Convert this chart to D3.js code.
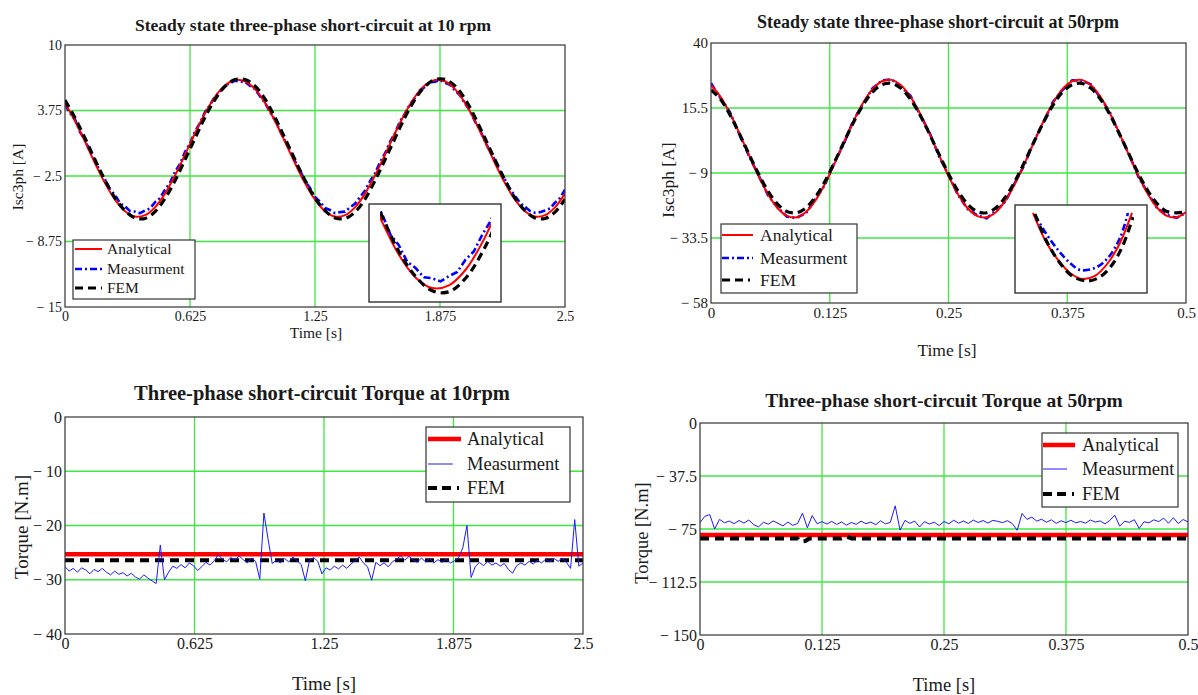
<!DOCTYPE html>
<html>
<head>
<meta charset="utf-8">
<script src="https://cdn.jsdelivr.net/npm/d3@7/dist/d3.min.js"></script>
<style>
  body { margin: 0; background: #fff; }
  svg text { font-family: "Liberation Serif", "Times New Roman", serif; fill: #1a1a1a; }
</style>
</head>
<body>
<svg id="chart" width="1198" height="695"></svg>
<script>
// ---- data ----
// short-circuit current at 10 rpm, sampled every 0.05 s (0 .. 2.5 s)
var isc10Analytical = [4.45, 2.75, 0.78, -1.28, -3.18, -4.76, -5.86, -6.37, -6.24, -5.49, -4.18, -2.45, -0.47, 1.58, 3.48, 5.06, 6.16, 6.67, 6.54, 5.79,
  4.48, 2.75, 0.77, -1.28, -3.18, -4.76, -5.86, -6.37, -6.24, -5.49, -4.18, -2.45, -0.47, 1.58, 3.48, 5.06, 6.16, 6.67, 6.54, 5.79,
  4.48, 2.75, 0.77, -1.28, -3.18, -4.76, -5.86, -6.37, -6.24, -5.49, -4.18];
var isc10Fem = [4.75, 3.05, 1.1, -0.95, -2.9, -4.6, -5.8, -6.5, -6.55, -5.9, -4.65, -2.95, -0.95, 1.1, 3.1, 4.8, 6.05, 6.7, 6.7, 6.1,
  4.85, 3.1, 1.1, -0.95, -2.9, -4.6, -5.8, -6.5, -6.55, -5.95, -4.7, -2.95, -0.95, 1.1, 3.1, 4.8, 6.05, 6.7, 6.72, 6.1,
  4.85, 3.1, 1.1, -0.95, -2.9, -4.6, -5.8, -6.5, -6.55, -5.95, -4.7];
// measurement, every 0.025 s
var isc10Meas = [4.3, 3.5, 2.9, 1.7, 0.95, -0.2, -1.0, -2.1, -2.8, -3.8, -4.3, -5.1, -5.4, -5.85, -5.9, -6.05, -5.8, -5.6, -5.0, -4.6,
  -3.8, -3.15, -2.1, -1.35, -0.2, 0.6, 1.75, 2.55, 3.6, 4.25, 5.1, 5.55, 6.15, 6.35, 6.6, 6.5, 6.5, 6.1, 5.8, 5.1,
  4.5, 3.6, 2.85, 1.8, 0.85, -0.05, -1.1, -1.95, -3.0, -3.65, -4.5, -4.95, -5.55, -5.75, -6.05, -5.95, -5.9, -5.5, -5.15, -4.5,
  -3.9, -3.0, -2.25, -1.2, -0.35, 0.75, 1.6, 2.7, 3.45, 4.35, 4.95, 5.7, 6.0, 6.45, 6.5, 6.65, 6.4, 6.2, 5.65, 5.2,
  4.4, 3.75, 2.7, 1.9, 0.8, -0.15, -1.0, -2.1, -2.85, -3.75, -4.4, -5.05, -5.45, -5.85, -6.0, -5.95, -5.8, -5.6, -5.05, -4.6, -3.8];

// short-circuit current at 50 rpm, every 0.01 s (0 .. 0.5 s)
var isc50Analytical = [24.07, 19.7, 13.43, 5.87, -2.24, -10.12, -16.99, -22.19, -25.18, -25.7, -23.67, -19.3, -13.03, -5.47, 2.64, 10.52, 17.39, 22.59, 25.58, 26.1,
  24.07, 19.7, 13.43, 5.87, -2.24, -10.12, -16.99, -22.19, -25.18, -25.7, -23.67, -19.3, -13.03, -5.47, 2.64, 10.52, 17.39, 22.59, 25.58, 26.1,
  24.07, 19.7, 13.43, 5.87, -2.24, -10.12, -16.99, -22.19, -25.18, -25.7, -23.67];
var isc50Fem = [22.3, 18.8, 12.9, 5.7, -1.9, -9.3, -15.8, -20.7, -23.5, -24.0, -22.1, -18.0, -12.1, -4.9, 2.7, 10.1, 16.6, 21.5, 24.3, 24.8,
  22.9, 18.8, 12.9, 5.7, -1.9, -9.3, -15.8, -20.7, -23.5, -24.0, -22.1, -18.0, -12.1, -4.9, 2.7, 10.1, 16.6, 21.5, 24.3, 24.8,
  22.9, 18.8, 12.9, 5.7, -1.9, -9.3, -15.8, -20.7, -23.5, -24.0, -23.6];
var isc50Meas = [24.8, 19.3, 13.9, 5.4, -2.6, -9.8, -17.4, -21.9, -25.5, -25.9, -24.1, -18.8, -13.4, -5.0, 2.2, 10.9, 17.0, 22.9, 25.9, 26.3,
  23.6, 20.1, 13.0, 6.3, -2.7, -9.7, -17.3, -22.5, -24.9, -26.1, -23.3, -19.7, -12.6, -5.9, 3.0, 10.1, 17.8, 22.3, 25.9, 25.8,
  24.4, 19.3, 13.8, 5.5, -1.9, -10.5, -16.6, -22.5, -24.8, -25.9, -24.0];
// the 50 rpm inset is drawn from its own zoomed trace
var inset50AnalyticalTime = [0.262, 0.2682, 0.2749, 0.2811, 0.2872, 0.2939, 0.3006, 0.3068, 0.313];
var inset50Analytical = [-17.49, -20.85, -23.33, -24.95, -25.69, -25.32, -23.71, -21.22, -17.49];
var inset50MeasTime = [0.263, 0.2682, 0.2749, 0.2811, 0.2862, 0.2939, 0.3006, 0.3068, 0.3109];
var inset50Meas = [-17.74, -19.85, -22.09, -23.71, -24.57, -24.33, -23.08, -20.6, -17.49];
var inset50FemTime = [0.263, 0.2692, 0.2759, 0.2821, 0.2898, 0.2965, 0.3027, 0.3084, 0.3135];
var inset50Fem = [-17.62, -21.1, -23.71, -25.32, -25.94, -25.44, -23.95, -21.47, -18.0];

// torque at 10 rpm
var torque10Analytical = [-25.3, -25.3];
var torque10Fem = [-26.4, -26.4];
// measurement every 0.02 s
var torque10Meas = [-27.6, -28.4, -27.9, -28.6, -27.8, -28.2, -28.9, -28.1, -28.5, -27.9, -28.6, -29.1, -28.4, -29.0, -28.7, -29.3, -28.8, -29.5, -29.9, -29.1,
  -29.7, -30.2, -30.7, -23.6, -30.0, -28.6, -27.5, -27.9, -27.2, -27.8, -26.9, -27.4, -28.3, -27.6, -26.8, -27.3, -26.5, -25.4, -26.2, -26.7,
  -25.9, -26.4, -25.6, -26.3, -26.9, -26.0, -26.6, -29.9, -17.7, -22.5, -27.0, -26.4, -26.9, -26.1, -26.7, -25.8, -26.5, -27.2, -30.2, -26.4,
  -25.9, -26.6, -28.9, -27.8, -28.2, -27.5, -28.0, -27.3, -27.9, -27.1, -26.5, -25.8, -26.9, -27.6, -30.1, -26.8, -27.4, -26.9, -27.6, -26.7,
  -26.2, -25.6, -26.4, -25.7, -26.3, -26.8, -26.0, -26.7, -26.1, -26.9, -26.3, -26.8, -26.2, -26.9, -26.5, -25.9, -24.1, -20.0, -29.6, -27.6,
  -26.8, -27.4, -26.6, -27.3, -26.9, -27.5, -27.0, -28.1, -28.8, -27.4, -26.9, -27.3, -26.6, -27.1, -26.4, -26.9, -26.2, -26.7, -26.1, -26.6,
  -26.0, -26.8, -27.9, -18.9, -27.5, -26.9];

// torque at 50 rpm
var torque50Analytical = [-79.2, -79.2];
var torque50FemTime = [0, 0.1, 0.103, 0.108, 0.112, 0.145, 0.15, 0.155, 0.5];
var torque50Fem = [-81.7, -81.7, -84, -83.5, -81.7, -81.7, -80.3, -81.7, -81.7];
// measurement every 0.005 s
var torque50Meas = [-70.5, -66.0, -64.8, -75.0, -68.2, -70.6, -69.4, -71.2, -69.0, -70.8, -68.7, -71.9, -73.5, -70.2, -71.6, -69.3, -71.0, -72.8, -70.1, -72.4,
  -71.1, -63.8, -74.2, -65.5, -71.3, -69.8, -71.5, -69.6, -71.8, -70.0, -72.3, -70.4, -71.7, -69.5, -71.2, -70.1, -72.0, -69.2, -71.4, -70.3,
  -58.6, -75.8, -68.9, -71.0, -69.4, -73.6, -69.8, -71.5, -70.2, -72.6, -69.7, -71.3, -68.8, -70.9, -69.3, -71.1, -68.7, -70.4, -69.0, -70.8,
  -68.9, -69.6, -70.5, -69.1, -71.2, -75.9, -64.0, -68.2, -66.6, -69.4, -68.1, -70.2, -68.5, -71.0, -69.2, -70.5, -68.8, -70.6, -69.7, -70.9,
  -68.6, -70.1, -69.3, -71.4, -68.9, -65.2, -73.0, -69.5, -70.3, -68.4, -74.6, -69.9, -70.6, -68.5, -69.8, -67.3, -70.9, -67.0, -71.2, -68.3, -70.0];

// axes
var ticks10 = [0, 0.625, 1.25, 1.875, 2.5];
var ticks50 = [0, 0.125, 0.25, 0.375, 0.5];
var iscTicks10 = [-15, -8.75, -2.5, 3.75, 10];
var iscTicks50 = [-58, -33.5, -9, 15.5, 40];
var torqueTicks10 = [-40, -30, -20, -10, 0];
var torqueTicks50 = [-150, -112.5, -75, -37.5, 0];
var seriesNames = ['Analytical', 'Measurment', 'FEM'];

var FONT = '"Liberation Serif", "Times New Roman", serif';

// sample times spread evenly over the record
function timesFor(n, tMax) {
  return d3.range(n).map(function (i) { return i * tMax / (n - 1); });
}

var styles = {
  anaThin: { stroke: '#ff0000', width: 2, dash: null },
  measDash: { stroke: '#0000ff', width: 2.6, dash: '7,3,2,3' },
  femDash: { stroke: '#000000', width: 3.2, dash: '8,5' },
  anaThick: { stroke: '#ff0000', width: 4.5, dash: null },
  measThin: { stroke: '#1a1aff', width: 1, dash: null },
  femThick: { stroke: '#000000', width: 4, dash: '9,6' }
};
// legend samples end with a dot like the originals
var legendDash = { measDash: '7,3,2,3', femDash: '8,5,8,5,2,40', femThick: '9,5,9,6,2,40' };

var svg = d3.select('#chart');

function fmt(d) {
  return d < 0 ? '\u2212 ' + Math.abs(d) : String(d);
}

function drawLine(g, s, x, y) {
  g.append('path')
    .datum(d3.zip(s.t, s.v))
    .attr('fill', 'none')
    .attr('stroke', styles[s.style].stroke)
    .attr('stroke-width', styles[s.style].width)
    .attr('stroke-dasharray', styles[s.style].dash)
    .attr('stroke-linejoin', 'round')
    .attr('d', d3.line()
      .x(function (d) { return x(d[0]); })
      .y(function (d) { return y(d[1]); })
      .curve(s.smooth ? d3.curveCatmullRom : d3.curveLinear));
}

function addText(g, x, y, size, str) {
  return g.append('text')
    .attr('x', x).attr('y', y)
    .style('font-family', FONT)
    .style('font-size', size + 'px')
    .text(str);
}

function drawPanel(p) {
  var x = d3.scaleLinear().domain(p.xDomain).range([p.left, p.left + p.width]);
  var y = d3.scaleLinear().domain(p.yDomain).range([p.top + p.height, p.top]);
  var g = svg.append('g');

  svg.append('clipPath').attr('id', 'clip' + p.id)
    .append('rect')
    .attr('x', p.left).attr('y', p.top)
    .attr('width', p.width).attr('height', p.height);

  // green grid
  g.selectAll('.vg').data(p.xTicks.slice(1, -1)).enter().append('line')
    .attr('x1', x).attr('x2', x)
    .attr('y1', p.top).attr('y2', p.top + p.height)
    .attr('stroke', '#3ee83e').attr('stroke-width', 1.3);
  g.selectAll('.hg').data(p.yTicks.slice(1, -1)).enter().append('line')
    .attr('y1', y).attr('y2', y)
    .attr('x1', p.left).attr('x2', p.left + p.width)
    .attr('stroke', '#3ee83e').attr('stroke-width', 1.3);

  var plot = g.append('g').attr('clip-path', 'url(#clip' + p.id + ')');
  p.series.forEach(function (s) { drawLine(plot, s, x, y); });

  g.append('rect')
    .attr('x', p.left).attr('y', p.top)
    .attr('width', p.width).attr('height', p.height)
    .attr('fill', 'none').attr('stroke', '#333').attr('stroke-width', 1.2);

  // axes: labels only, Mathcad style
  var ax = g.append('g')
    .attr('transform', 'translate(0,' + (p.top + p.height) + ')')
    .call(d3.axisBottom(x).tickValues(p.xTicks).tickFormat(fmt).tickSize(0).tickPadding(4));
  var ay = g.append('g')
    .attr('transform', 'translate(' + p.left + ',0)')
    .call(d3.axisLeft(y).tickValues(p.yTicks).tickFormat(fmt).tickSize(0).tickPadding(3));
  [ax, ay].forEach(function (a) {
    a.select('.domain').remove();
    a.attr('font-family', null).attr('font-size', null);
    a.selectAll('text')
      .style('font-family', FONT)
      .style('font-size', p.tickSize + 'px')
      .attr('fill', '#1a1a1a');
  });

  addText(g, p.titleX, p.titleY, p.titleSize, p.title)
    .attr('text-anchor', 'middle')
    .style('font-weight', 'bold');
  addText(g, p.xTitleX, p.xTitleY, p.labelSize, 'Time [s]')
    .attr('text-anchor', 'middle');
  addText(g, 0, 0, p.labelSize, p.yTitle)
    .attr('transform', 'translate(' + p.yTitleX + ',' + p.yTitleY + ') rotate(-90)')
    .attr('text-anchor', 'middle')
    .attr('dy', '0.35em');

  // legend
  var lg = p.legend;
  var leg = g.append('g').attr('transform', 'translate(' + lg.x + ',' + lg.y + ')');
  leg.append('rect')
    .attr('width', lg.w).attr('height', lg.h)
    .attr('fill', '#fff').attr('stroke', '#333').attr('stroke-width', 1.2);
  p.series.slice().sort(function (a, b) { return a.order - b.order; }).forEach(function (s, i) {
    var st = styles[s.style];
    var ry = lg.rows[i];
    leg.append('line')
      .attr('x1', lg.line[0]).attr('x2', s.style === 'measThin' ? lg.line[0] + (lg.line[1] - lg.line[0]) * 0.75 : lg.line[1])
      .attr('y1', ry).attr('y2', ry)
      .attr('stroke', st.stroke)
      .attr('stroke-width', st.width)
      .attr('stroke-dasharray', legendDash[s.style] || st.dash);
    addText(leg, lg.textX, ry, lg.fontSize, seriesNames[s.order])
      .attr('dy', '0.35em');
  });

  // zoomed inset of one trough
  if (p.inset) {
    var ins = p.inset;
    var ix = d3.scaleLinear().domain(ins.xDomain).range([ins.x + ins.inner[0], ins.x + ins.inner[1]]);
    var iy = d3.scaleLinear().domain(ins.yDomain).range([ins.y + ins.h, ins.y]);
    g.append('rect')
      .attr('x', ins.x).attr('y', ins.y)
      .attr('width', ins.w).attr('height', ins.h)
      .attr('fill', '#fff').attr('stroke', '#333').attr('stroke-width', 1.4);
    svg.append('clipPath').attr('id', 'inset' + p.id)
      .append('rect')
      .attr('x', ins.x + ins.inner[0] - 2).attr('y', ins.y + 1)
      .attr('width', ins.inner[1] - ins.inner[0] + 4).attr('height', ins.h - 2);
    var ip = g.append('g').attr('clip-path', 'url(#inset' + p.id + ')');
    (ins.series || p.series).forEach(function (s) { drawLine(ip, s, ix, iy); });
  }
}

drawPanel({
  id: 1, left: 65, top: 45, width: 500, height: 262,
  xDomain: [0, 2.5], yDomain: [-15, 10], xTicks: ticks10, yTicks: iscTicks10, tickSize: 14,
  title: 'Steady state three-phase short-circuit at 10 rpm', titleX: 313, titleY: 31, titleSize: 17.5,
  xTitleX: 316, xTitleY: 338, yTitle: 'Isc3ph [A]', yTitleX: 18, yTitleY: 177, labelSize: 15.5,
  series: [
    { t: timesFor(isc10Meas.length, 2.5), v: isc10Meas, style: 'measDash', order: 1 },
    { t: timesFor(isc10Analytical.length, 2.5), v: isc10Analytical, style: 'anaThin', order: 0, smooth: true },
    { t: timesFor(isc10Fem.length, 2.5), v: isc10Fem, style: 'femDash', order: 2, smooth: true }
  ],
  legend: { x: 73, y: 240, w: 122, h: 59, rows: [9, 29, 48], line: [2, 29], textX: 34, fontSize: 15.5 },
  inset: { x: 369, y: 204, w: 132, h: 98, inner: [13, 120], xDomain: [0.2, 0.52], yDomain: [-7.04, -2.33] }
});

drawPanel({
  id: 2, left: 711, top: 43, width: 475, height: 260,
  xDomain: [0, 0.5], yDomain: [-58, 40], xTicks: ticks50, yTicks: iscTicks50, tickSize: 15,
  title: 'Steady state three-phase short-circuit at 50rpm', titleX: 938, titleY: 28, titleSize: 18,
  xTitleX: 947, xTitleY: 356, yTitle: 'Isc3ph [A]', yTitleX: 668, yTitleY: 180, labelSize: 17.5,
  series: [
    { t: timesFor(isc50Meas.length, 0.5), v: isc50Meas, style: 'measDash', order: 1 },
    { t: timesFor(isc50Analytical.length, 0.5), v: isc50Analytical, style: 'anaThin', order: 0, smooth: true },
    { t: timesFor(isc50Fem.length, 0.5), v: isc50Fem, style: 'femDash', order: 2, smooth: true }
  ],
  legend: { x: 721, y: 224, w: 136, h: 69, rows: [11, 34, 56], line: [1, 32], textX: 39, fontSize: 17.5 },
  inset: {
    x: 1015, y: 205, w: 132, h: 88, inner: [18, 117], xDomain: [0.262, 0.313], yDomain: [-27.44, -16.5],
    series: [
      { t: inset50MeasTime, v: inset50Meas, style: 'measDash', smooth: true },
      { t: inset50AnalyticalTime, v: inset50Analytical, style: 'anaThin', smooth: true },
      { t: inset50FemTime, v: inset50Fem, style: 'femDash', smooth: true }
    ]
  }
});

drawPanel({
  id: 3, left: 65, top: 417, width: 518, height: 217,
  xDomain: [0, 2.5], yDomain: [-40, 0], xTicks: ticks10, yTicks: torqueTicks10, tickSize: 16,
  title: 'Three-phase short-circuit Torque at 10rpm', titleX: 322, titleY: 400, titleSize: 20.5,
  xTitleX: 324, xTitleY: 690, yTitle: 'Torque [N.m]', yTitleX: 21, yTitleY: 527, labelSize: 19,
  series: [
    { t: [0, 2.5], v: torque10Analytical, style: 'anaThick', order: 0 },
    { t: [0, 2.5], v: torque10Fem, style: 'femThick', order: 2 },
    { t: timesFor(torque10Meas.length, 2.5), v: torque10Meas, style: 'measThin', order: 1 }
  ],
  legend: { x: 426, y: 427, w: 144, h: 75, rows: [12, 37, 61], line: [2, 35], textX: 41, fontSize: 18.5 }
});

drawPanel({
  id: 4, left: 700, top: 423, width: 488, height: 212,
  xDomain: [0, 0.5], yDomain: [-150, 0], xTicks: ticks50, yTicks: torqueTicks50, tickSize: 16,
  title: 'Three-phase short-circuit Torque at 50rpm', titleX: 944, titleY: 407, titleSize: 19.5,
  xTitleX: 944, xTitleY: 691, yTitle: 'Torque [N.m]', yTitleX: 642, yTitleY: 533, labelSize: 18.5,
  series: [
    { t: [0, 0.5], v: torque50Analytical, style: 'anaThick', order: 0 },
    { t: torque50FemTime, v: torque50Fem, style: 'femThick', order: 2 },
    { t: timesFor(torque50Meas.length, 0.5), v: torque50Meas, style: 'measThin', order: 1 }
  ],
  legend: { x: 1042, y: 433, w: 136, h: 74, rows: [12, 36, 61], line: [1, 33], textX: 40, fontSize: 18.5 }
});
</script>
</body>
</html>
